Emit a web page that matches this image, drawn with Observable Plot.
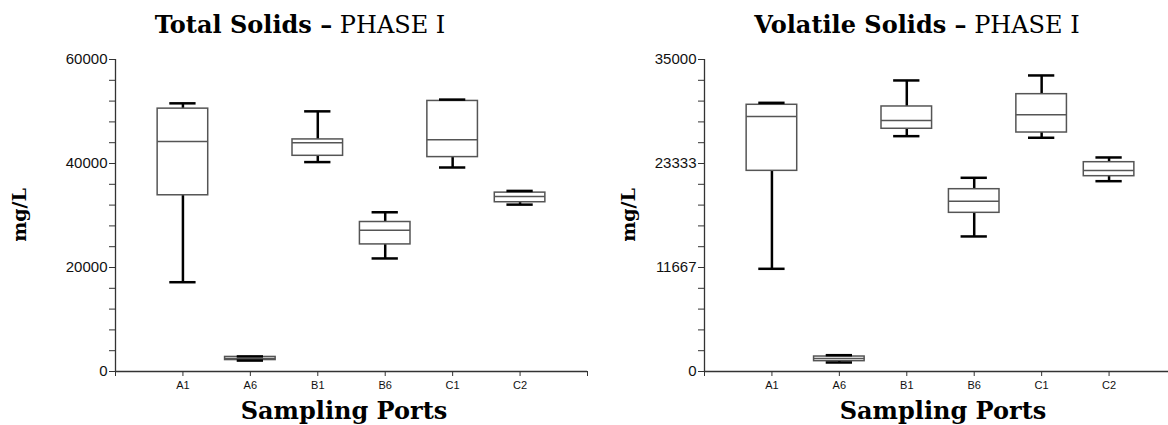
<!DOCTYPE html>
<html>
<head>
<meta charset="utf-8">
<script src="https://cdn.jsdelivr.net/npm/d3@7"></script>
<script src="https://cdn.jsdelivr.net/npm/@observablehq/plot@0.6"></script>
<style>
  html, body { margin: 0; padding: 0; background: #fff; }
  #page { position: relative; width: 1168px; height: 425px; overflow: hidden; background: #fff; }
  .title { position: absolute; z-index: 5; top: 13px; font-family: "DejaVu Serif", serif; font-size: 24px; line-height: 1; white-space: nowrap; text-align: center; color: #000; }
  .title b { font-weight: bold; }
  .xlab { position: absolute; z-index: 5; top: 399px; font-family: "DejaVu Serif", serif; font-weight: bold; font-size: 24px; line-height: 1; white-space: nowrap; text-align: center; color: #000; }
  .ylab { position: absolute; z-index: 5; font-family: "DejaVu Serif", serif; font-weight: bold; font-size: 19px; line-height: 1; white-space: nowrap; transform: translate(-50%, -50%) rotate(-90deg); color: #000; }
  .panel { position: absolute; top: 0; z-index: 1; width: 589px; height: 395px; }
  .panel svg { max-width: none !important; width: 589px; height: 395px; }
</style>
</head>
<body>
<div id="page">
  <div class="panel" id="left" style="left:0;"></div>
  <div class="panel" id="right" style="left:589px;"></div>
  <div class="title" style="left:0;width:600px;"><b>Total Solids –</b> PHASE I</div>
  <div class="title" style="left:617px;width:600px;"><b>Volatile Solids –</b> PHASE I</div>
  <div class="xlab" style="left:44px;width:600px;">Sampling Ports</div>
  <div class="xlab" style="left:643px;width:600px;">Sampling Ports</div>
  <div class="ylab" style="left:19px;top:215px;">mg/L</div>
  <div class="ylab" style="left:628px;top:215px;">mg/L</div>
</div>
<script>
// Sampling ports (categories)
const ports = ["A1", "A6", "B1", "B6", "C1", "C2"];

// Total Solids (mg/L): whisker low, Q1, median, Q3, whisker high
const tsLow  = [17170, 2100, 40270, 21740, 39230, 32090];
const tsQ1   = [33890, 2200, 41480, 24440, 41230, 32550];
const tsMed  = [44240, 2500, 43990, 27140, 44570, 33630];
const tsQ3   = [50550, 2800, 44630, 28750, 52030, 34400];
const tsHigh = [51570, 2900, 50030, 30620, 52290, 34730];

// Volatile Solids (mg/L)
const vsLow  = [11520, 1010, 26400, 15150, 26220, 21350];
const vsQ1   = [22510, 1160, 27230, 17800, 26810, 21910];
const vsMed  = [28610, 1460, 28160, 19100, 28800, 22550];
const vsQ3   = [29920, 1680, 29730, 20450, 31110, 23480];
const vsHigh = [30140, 1830, 32650, 21730, 33210, 24010];

// Y-axis ticks
const tsTicks = d3.range(0, 60001, 4000);
const tsLabels = [0, 20000, 40000, 60000];
const vsTicks = d3.range(0, 16).map(i => i * 35000 / 15);
const vsLabels = [0, 35000 / 3, 70000 / 3, 35000];

function rows(lo, q1, med, q3, hi) {
  return ports.map((p, i) => ({port: p, pos: i + 1, low: lo[i], q1: q1[i], med: med[i], q3: q3[i], high: hi[i]}));
}

const boxHalf = 0.375;
const capHalf = 0.195;

function chart(data, yMax, yTicks, yLabels) {
  const isLabel = t => yLabels.some(l => Math.abs(l - t) < 1e-6);
  return Plot.plot({
    width: 589,
    height: 395,
    marginLeft: 115,
    marginRight: 2,
    marginTop: 59,
    marginBottom: 24,
    x: {type: "linear", domain: [0, ports.length + 1]},
    y: {domain: [0, yMax]},
    style: {fontFamily: "'Liberation Sans', Arial, sans-serif", background: "transparent"},
    marks: [
      Plot.axisX(d3.range(0, ports.length + 2), {
        tickSize: 5, tickPadding: 5, fontSize: 11, stroke: "#333", fill: "#111",
        tickFormat: d => ports[d - 1] ?? "", label: null
      }),
      Plot.axisY(yTicks, {
        tickSize: 6, tickPadding: 2, fontSize: 15, stroke: "#333", fill: "#111",
        tickFormat: d => isLabel(d) ? String(Math.round(d)) : "", label: null
      }),
      Plot.ruleX([0], {stroke: "#333", strokeWidth: 1.3}),
      Plot.ruleY([0], {stroke: "#333", strokeWidth: 1.3}),
      Plot.ruleX(data, {x: "pos", y1: "low", y2: "q1", stroke: "#000", strokeWidth: 2.5}),
      Plot.ruleX(data, {x: "pos", y1: "q3", y2: "high", stroke: "#000", strokeWidth: 2.5}),
      Plot.rect(data, {x1: d => d.pos - boxHalf, x2: d => d.pos + boxHalf, y1: "q1", y2: "q3", fill: "white", stroke: "#555", strokeWidth: 1.5}),
      Plot.ruleY(data, {y: "med", x1: d => d.pos - boxHalf, x2: d => d.pos + boxHalf, stroke: "#555", strokeWidth: 1.5}),
      Plot.ruleY(data, {y: "low", x1: d => d.pos - capHalf, x2: d => d.pos + capHalf, stroke: "#000", strokeWidth: 2.5}),
      Plot.ruleY(data, {y: "high", x1: d => d.pos - capHalf, x2: d => d.pos + capHalf, stroke: "#000", strokeWidth: 2.5})
    ]
  });
}

document.getElementById("left").append(chart(rows(tsLow, tsQ1, tsMed, tsQ3, tsHigh), 60000, tsTicks, tsLabels));
document.getElementById("right").append(chart(rows(vsLow, vsQ1, vsMed, vsQ3, vsHigh), 35000, vsTicks, vsLabels));
</script>
</body>
</html>
